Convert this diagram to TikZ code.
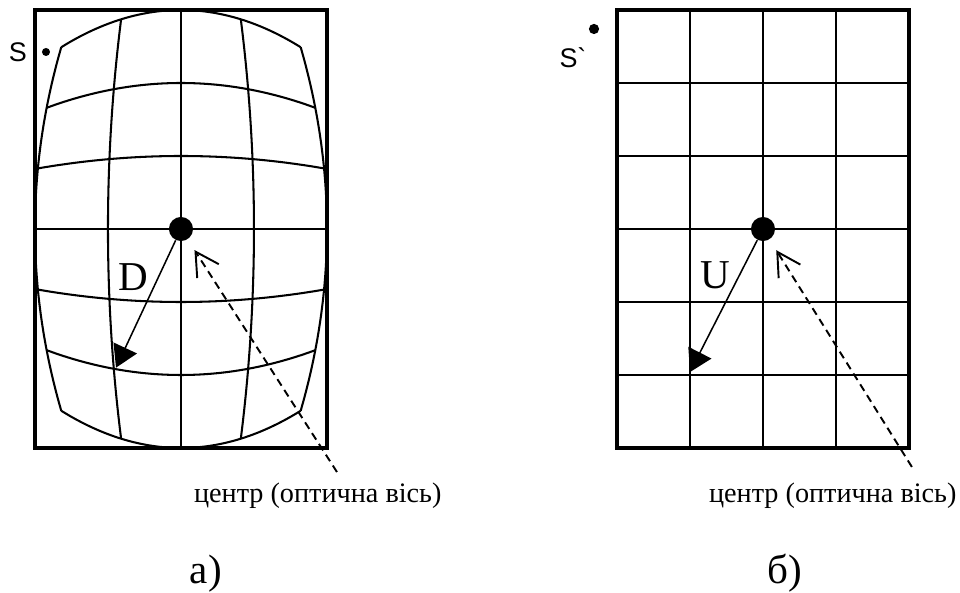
\documentclass[tikz,border=0pt]{standalone}
\usepackage{fontspec}
\setmainfont{Liberation Serif}
\newfontfamily\sansS{Liberation Sans}
\usepackage{tikz}
\usetikzlibrary{arrows.meta,calc}

\tikzset{
  frame/.style={line width=1.2pt},
  gridline/.style={line width=1.1pt},
  curveline/.style={line width=0.8pt},
  center dot/.style={circle, fill, inner sep=0pt, minimum size=0.33cm},
  point dot/.style={circle, fill, inner sep=0pt, minimum size=#1},
  ray/.style={line width=0.6pt, -{Triangle[length=8.5pt,width=10pt]}},
  axis ray/.style={line width=0.75pt, dash pattern=on 3pt off 2pt,
    -{Straight Barb[length=9pt,width=10pt]}, shorten >=0.17cm},
  letter/.style={font=\fontsize{16}{19}\selectfont},
  caption/.style={font=\fontsize{11}{13}\selectfont, anchor=base east, inner sep=0pt},
  pointname/.style={font=\sansS\fontsize{10.5}{12}\selectfont},
}

\begin{document}
\begin{tikzpicture}
  \useasboundingbox (0,0) rectangle (13.151,8.110);

  % а) зображення з дисторсією
  \def\kx{0.18}
  \def\ky{0.17}
  \begin{scope}[shift={(2.479,4.973)}]
    \draw[frame] (-2,-3) rectangle (2,3);
    \draw[gridline] (0,-3) -- (0,3);
    \draw[gridline] (-2,0) -- (2,0);
    % викривлені вертикалі
    \foreach \i in {-2,-1,1,2} {
      \draw[curveline] plot[smooth, domain=-3:3, samples=31, variable=\t]
        ({\i*(1-\kx*(\t/3)*(\t/3))}, {\t*(1-\ky*(\i/2)*(\i/2))});
    }
    % викривлені горизонталі
    \foreach \j in {-3,-2,-1,1,2,3} {
      \draw[curveline] plot[smooth, domain=-2:2, samples=31, variable=\t]
        ({\t*(1-\kx*(\j/3)*(\j/3))}, {\j*(1-\ky*(\t/2)*(\t/2))});
    }
    \node[center dot] (cL) at (0,0) {};
    \node[point dot=0.11cm] (sL) at (-1.849,2.425) {};
    \node[pointname] (sLname) at (-2.233,2.425) {S};
    \coordinate (dL) at (-0.89,-1.90);
    \draw[ray] (cL) -- (dL);
    \node[letter] (labD) at (-0.658,-0.658) {D};
    \coordinate (oL) at (2.137,-3.329);
    \draw[axis ray] (oL) -- (cL);
  \end{scope}

  % б) виправлене зображення
  \begin{scope}[shift={(10.452,4.973)}]
    \draw[frame] (-2,-3) rectangle (2,3);
    \foreach \x in {-1,0,1}
      \draw[gridline] (\x,-3) -- (\x,3);
    \foreach \y in {-2,...,2}
      \draw[gridline] (-2,\y) -- (2,\y);
    \node[center dot] (cR) at (0,0) {};
    \node[point dot=0.14cm] (sR) at (-2.315,2.740) {};
    \node[pointname] (sRname) at (-2.603,2.342) {S\textasciigrave};
    \coordinate (dR) at (-1.0,-1.96);
    \draw[ray] (cR) -- (dR);
    \node[letter] (labU) at (-0.658,-0.630) {U};
    \coordinate (oR) at (2.04,-3.26);
    \draw[axis ray] (oR) -- (cR);
  \end{scope}

  % підписи
  \node[caption] (capL) at (6.055,1.22) {центр (оптична вісь)};
  \node[caption] (capR) at (13.11,1.22) {центр (оптична вісь)};
  \node[letter, anchor=base, inner sep=0pt] (subA) at (2.82,0.11) {а)};
  \node[letter, anchor=base, inner sep=0pt] (subB) at (10.75,0.11) {б)};
\end{tikzpicture}
\end{document}
